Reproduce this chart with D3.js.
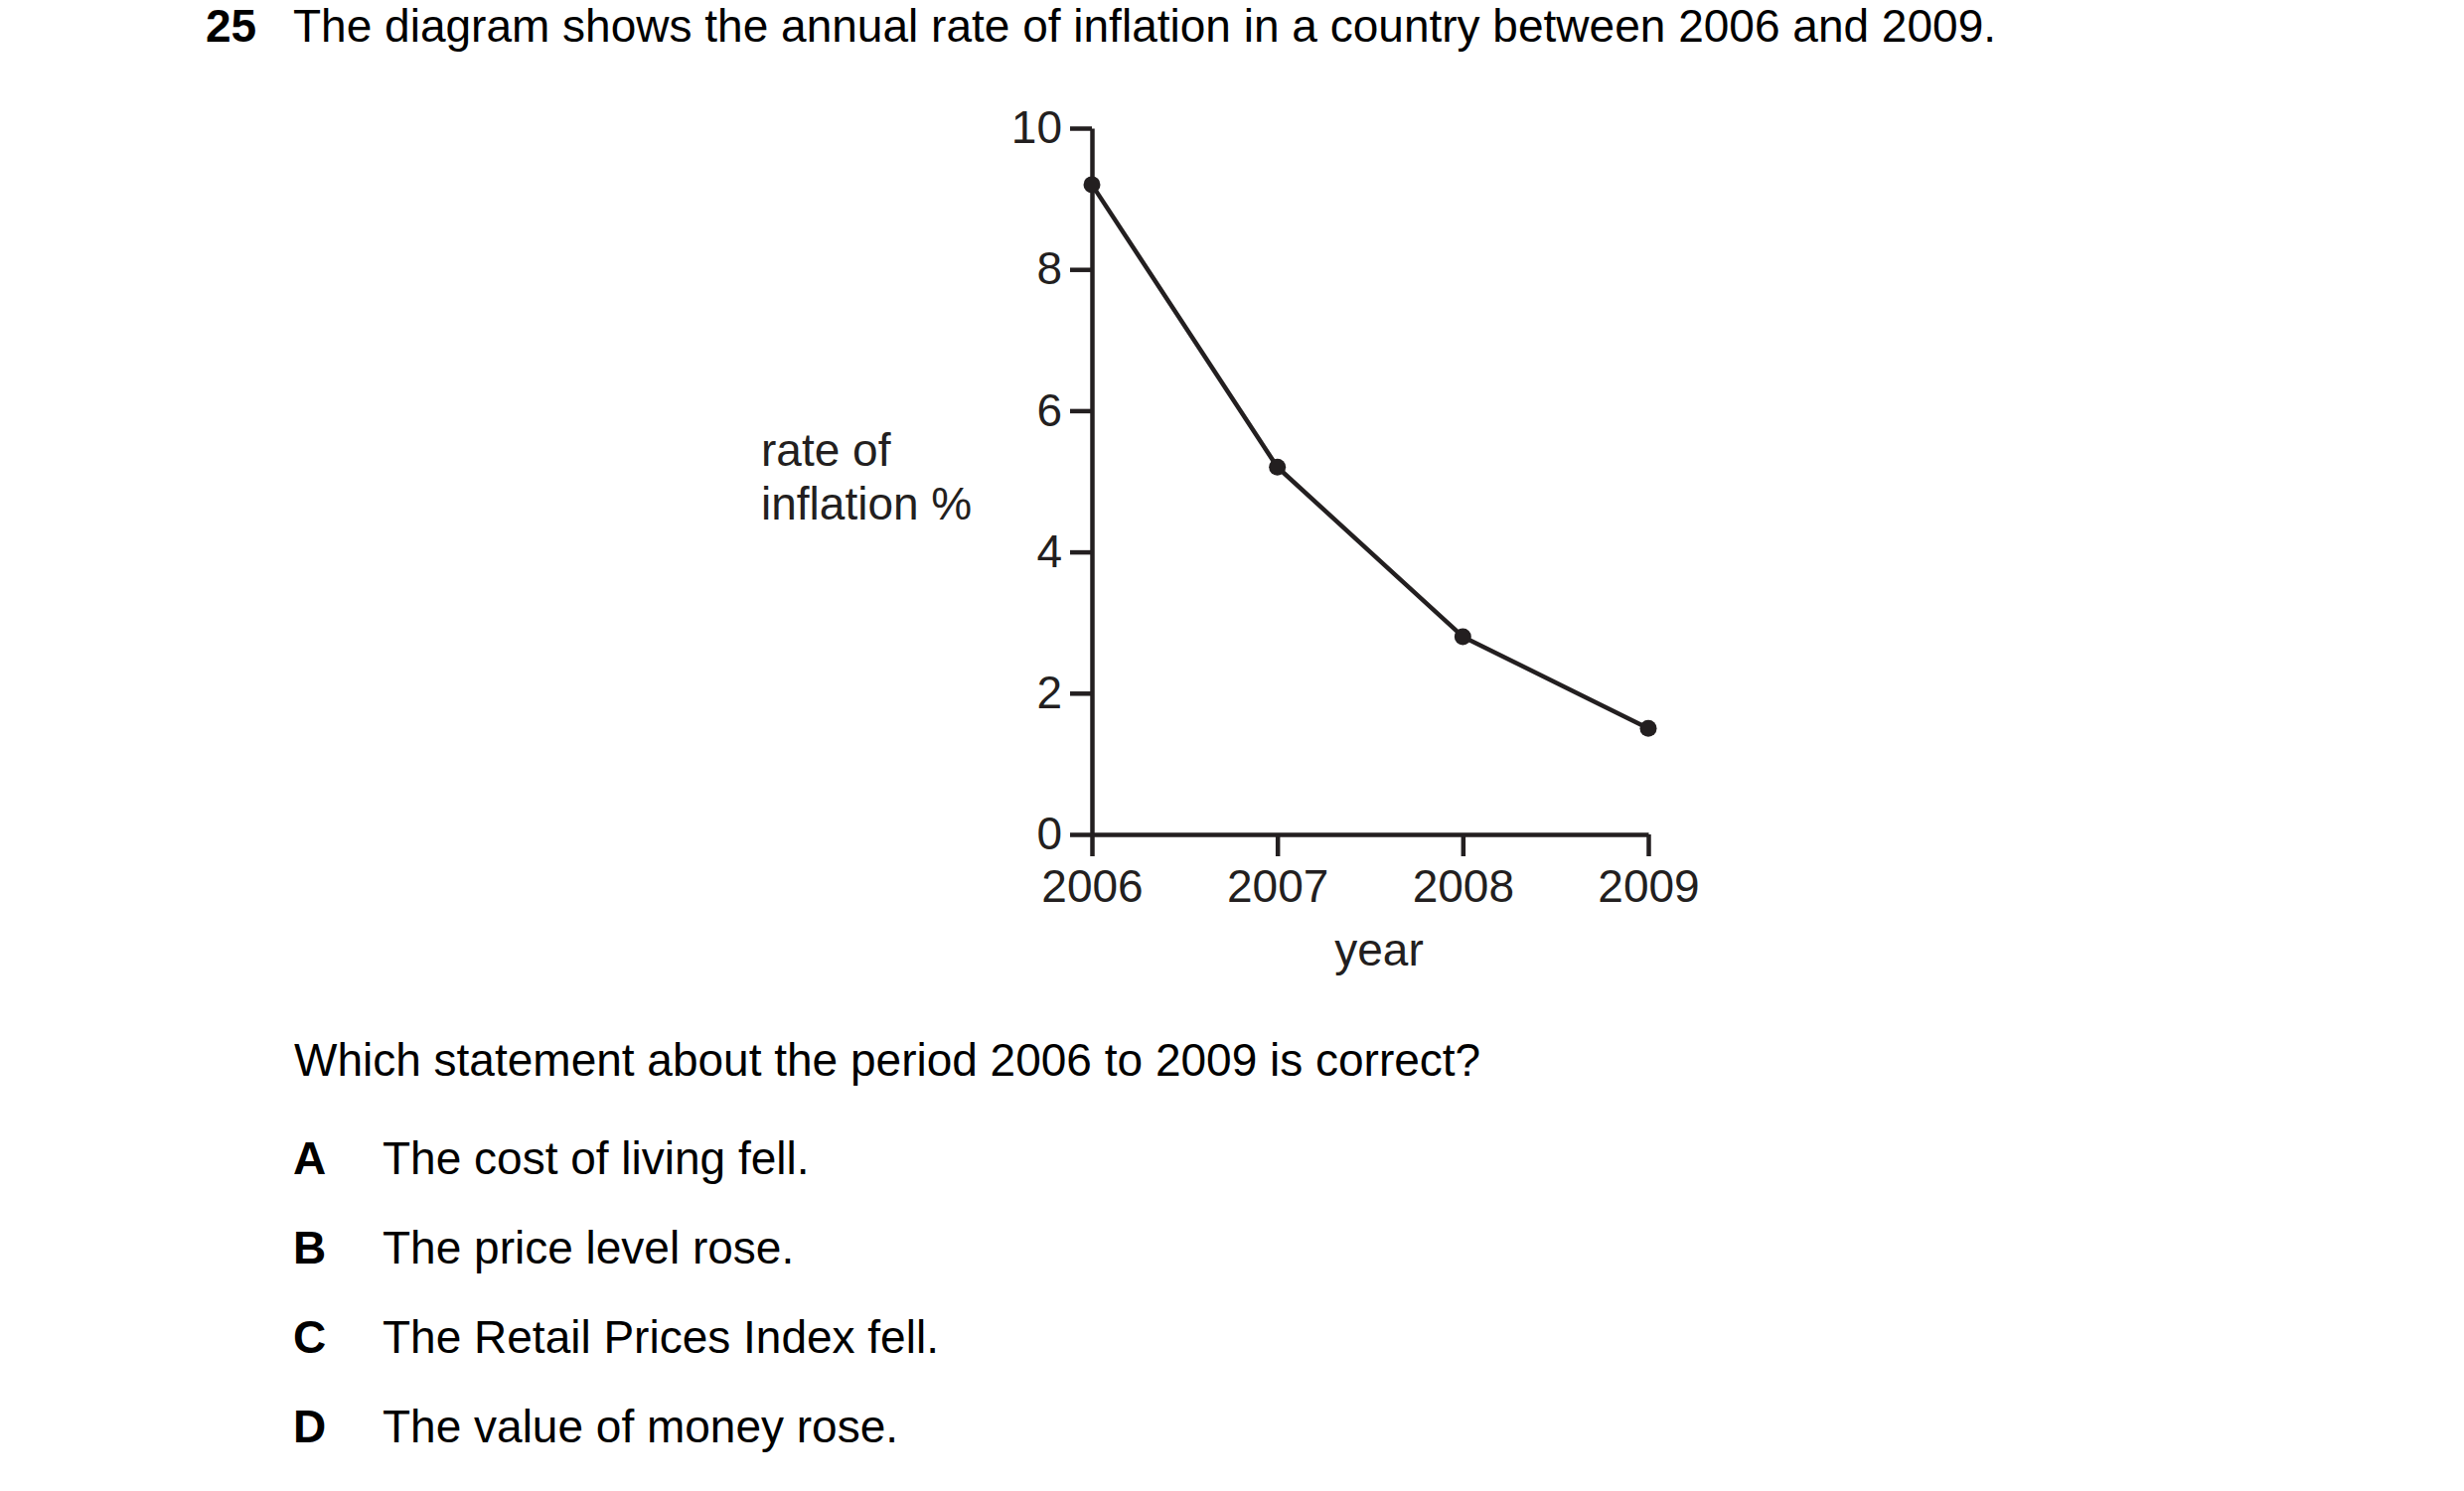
<!DOCTYPE html>
<html lang="en">
<head>
	<meta charset="utf-8">
	<title>Inflation 2006-2009</title>
	<script src="https://d3js.org/d3.v7.min.js" charset="utf-8"></script>
	<style>
	body { margin: 0; background: #fff; }
	text { font-family: "Liberation Sans", Arial, sans-serif; }
	</style>
</head>
<body>
<script>
// chart data
var years = [2006, 2007, 2008, 2009];
var inflation = [9.2, 5.2, 2.8, 1.5];
var yTicks = [0, 2, 4, 6, 8, 10];

// question text
var questionNo = "25";
var questionTitle = "The diagram shows the annual rate of inflation in a country between 2006 and 2009.";
var questionAsk = "Which statement about the period 2006 to 2009 is correct?";
var optionLetters = ["A", "B", "C", "D"];
var optionTexts = ["The cost of living fell.", "The price level rose.", "The Retail Prices Index fell.", "The value of money rose."];

var w = 2480;
var h = 1501;
var ink = "#231f20";

var svg = d3.select("body")
	.append("svg")
	.attr("width", w)
	.attr("height", h);

// heading
svg.append("text")
	.attr("x", 207).attr("y", 42)
	.attr("font-size", 46).attr("font-weight", "bold")
	.text(questionNo);
svg.append("text")
	.attr("x", 295).attr("y", 42)
	.attr("font-size", 46)
	.attr("textLength", 1714)
	.text(questionTitle);

// scales
var xScale = d3.scalePoint()
	.domain(years)
	.range([1099, 1659]);

var yScale = d3.scaleLinear()
	.domain([0, 10])
	.range([840, 129]);

// y axis
var yAxis = svg.append("g")
	.attr("transform", "translate(1099,0)")
	.call(d3.axisLeft(yScale).tickValues(yTicks).tickSize(22).tickSizeOuter(0).tickPadding(8));

// x axis
var xAxis = svg.append("g")
	.attr("transform", "translate(0,840)")
	.call(d3.axisBottom(xScale).tickSize(22).tickSizeOuter(0).tickPadding(13));

[yAxis, xAxis].forEach(function(g) {
	g.select(".domain").attr("stroke", ink).attr("stroke-width", 4.5);
	g.selectAll(".tick line").attr("stroke", ink).attr("stroke-width", 4.5);
	g.selectAll(".tick text")
		.attr("fill", ink)
		.attr("font-size", 46)
		.attr("font-family", "'Liberation Sans', Arial, sans-serif");
});

// data line
var line = d3.line()
	.x(function(d, i) { return xScale(years[i]); })
	.y(function(d) { return yScale(d); });

svg.append("path")
	.datum(inflation)
	.attr("d", line)
	.attr("fill", "none")
	.attr("stroke", ink)
	.attr("stroke-width", 4.5)
	.attr("stroke-linejoin", "round");

svg.selectAll("circle")
	.data(inflation)
	.enter()
	.append("circle")
	.attr("cx", function(d, i) { return xScale(years[i]); })
	.attr("cy", function(d) { return yScale(d); })
	.attr("r", 8.5)
	.attr("fill", ink);

// axis labels
svg.append("text")
	.attr("x", 766).attr("y", 469)
	.attr("font-size", 46).attr("fill", ink)
	.text("rate of");
svg.append("text")
	.attr("x", 766).attr("y", 523)
	.attr("font-size", 46).attr("fill", ink)
	.text("inflation %");
svg.append("text")
	.attr("x", 1388).attr("y", 972)
	.attr("text-anchor", "middle")
	.attr("font-size", 46).attr("fill", ink)
	.text("year");

// question and options
svg.append("text")
	.attr("x", 296).attr("y", 1083)
	.attr("font-size", 46)
	.text(questionAsk);

optionLetters.forEach(function(letter, i) {
	var y = 1182 + i * 90;
	svg.append("text")
		.attr("x", 295).attr("y", y)
		.attr("font-size", 46).attr("font-weight", "bold")
		.text(letter);
	svg.append("text")
		.attr("x", 385).attr("y", y)
		.attr("font-size", 46)
		.text(optionTexts[i]);
});
</script>
</body>
</html>
